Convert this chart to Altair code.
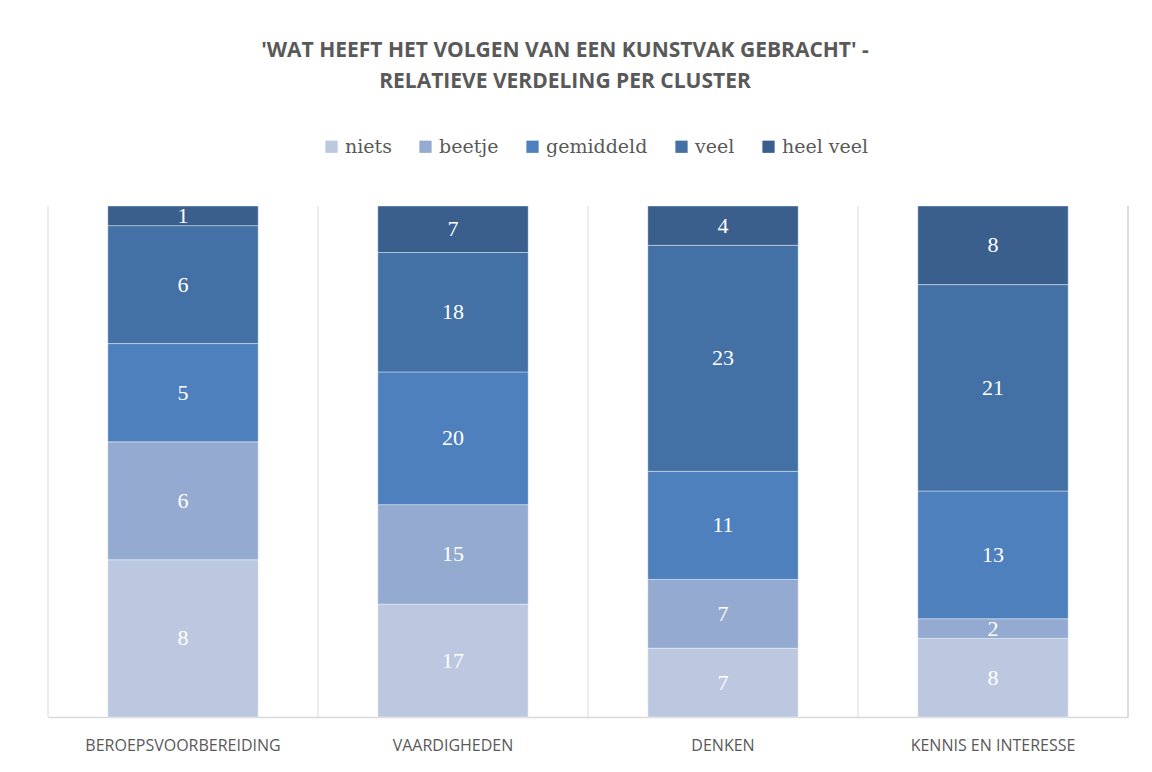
import altair as alt
import pandas as pd

clusters = ["BEROEPSVOORBEREIDING", "VAARDIGHEDEN", "DENKEN", "KENNIS EN INTERESSE"]
levels = ["niets", "beetje", "gemiddeld", "veel", "heel veel"]
niets = [8, 17, 7, 8]
beetje = [6, 15, 7, 2]
gemiddeld = [5, 20, 11, 13]
veel = [6, 18, 23, 21]
heel_veel = [1, 7, 4, 8]
colors = ["#BCC8E0", "#94AAD1", "#4E80BD", "#4371A5", "#3A5F8D"]

series = [niets, beetje, gemiddeld, veel, heel_veel]
rows = []
for li, (lvl, vals) in enumerate(zip(levels, series)):
    for c, v in zip(clusters, vals):
        rows.append({"cluster": c, "niveau": lvl, "order": li, "value": v})
df = pd.DataFrame(rows)
cdf = pd.DataFrame({"cluster": clusters})

W, H = 1080, 511
STEP = W / len(clusters)

base = alt.Chart(df).transform_stack(
    stack="value", groupby=["cluster"], as_=["y0", "y1"],
    offset="normalize", sort=[alt.SortField("order", order="ascending")]
).transform_calculate(ym="(datum.y0 + datum.y1) / 2")

xscale = alt.Scale(domain=clusters, paddingInner=0.443, paddingOuter=0.2215)
xaxis = alt.Axis(grid=False, domainColor="#D9D9D9", domainWidth=1.5, ticks=False,
                 labelFont="Open Sans", labelFontSize=16, labelLimit=0,
                 labelColor="#595959", labelPadding=20, labelAngle=0)
xenc = alt.X("cluster:N", sort=clusters, title=None, scale=xscale, axis=xaxis)

grid = alt.Chart(cdf).mark_rule(color="#D9D9D9", xOffset=-STEP / 2).encode(
    x=alt.X("cluster:N", sort=clusters, title=None, scale=xscale, bandPosition=0.5, axis=xaxis),
    y=alt.value(0), y2=alt.value(H),
)

bars = base.mark_bar(stroke="white", strokeWidth=0.4).encode(
    x=xenc,
    y=alt.Y("y0:Q", scale=alt.Scale(domain=[0, 1]), axis=None),
    y2="y1:Q",
    color=alt.Color("niveau:N", sort=levels,
                    scale=alt.Scale(domain=levels, range=colors),
                    legend=alt.Legend(title=None, orient="none", direction="horizontal",
                                      legendX=274, legendY=-69,
                                      symbolType="square", symbolSize=150,
                                      symbolStrokeWidth=0,
                                      labelFont="DejaVu Serif", labelFontSize=19,
                                      labelColor="#595959", columnPadding=24,
                                      labelOffset=4)),
    order=alt.Order("order:Q"),
)

labels = base.mark_text(color="white", font="Liberation Serif", fontSize=22,
                        baseline="middle").encode(
    x=xenc,
    y=alt.Y("ym:Q", scale=alt.Scale(domain=[0, 1]), axis=None),
    text=alt.Text("value:Q"),
)

right_edge = alt.Chart(cdf).mark_rule(color="#D9D9D9").encode(
    x=alt.value(W), y=alt.value(0), y2=alt.value(H)
)

chart = alt.layer(grid, right_edge, bars, labels).properties(
    width=W, height=H,
    autosize="none",
    padding={"left": 40, "top": 198, "right": 16, "bottom": 47},
    title=alt.Title(
        ["'WAT HEEFT HET VOLGEN VAN EEN KUNSTVAK GEBRACHT'  -",
         "RELATIEVE VERDELING PER CLUSTER"],
        font="Open Sans", fontSize=21, fontWeight="bold", color="#595959",
        anchor="middle", dx=-23, offset=45, lineHeight=31,
    ),
).configure_view(stroke=None)

chart.save("out.html", embed_options={"renderer": "svg", "actions": False})
